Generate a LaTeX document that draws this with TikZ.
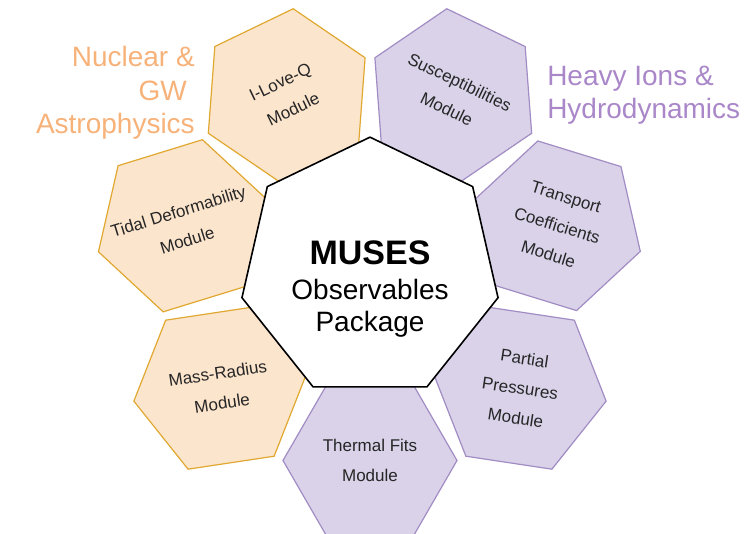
\documentclass[tikz,border=0pt]{standalone}
\usepackage{fontspec}
\setmainfont{Liberation Sans}
\usepackage{tikz}
\usetikzlibrary{shapes.geometric}
\definecolor{orfill}{HTML}{FCE5CD}
\definecolor{ordraw}{HTML}{E0A830}
\definecolor{ortext}{HTML}{F7B27A}
\definecolor{pufill}{HTML}{D9D2E9}
\definecolor{pudraw}{HTML}{A28CC4}
\definecolor{putext}{HTML}{A987C8}
\tikzset{
  hexa/.style ={regular polygon,regular polygon sides=6,minimum size=130.5pt,inner sep=-12pt,
    align=center,text=black!85,font=\fontsize{12.75}{22.5}\selectfont},
  nuc/.style  ={hexa,draw=ordraw,fill=orfill,line width=0.9pt},
  hion/.style ={hexa,draw=pudraw,fill=pufill,line width=0.9pt},
  core/.style ={regular polygon,regular polygon sides=7,minimum size=197pt,inner sep=0pt,
    draw,line width=1.2pt,fill=white},
  grp/.style  ={font=\fontsize{21}{25}\selectfont,inner sep=0pt},
}
\begin{document}
\begin{tikzpicture}[x=0.75pt,y=0.75pt]
  \useasboundingbox (-370,-265.5) rectangle (386,268.5);
  % astrophysics modules
  \node[nuc,rotate=25.71]  (ilq)   at (115.71:192) {I-Love-Q\\Module};
  \node[nuc,rotate=17.14]  (tidal) at (167.14:192) {Tidal Deformability\\Module};
  \node[nuc,rotate=8.57]   (mr)    at (218.57:192) {Mass-Radius\\Module};
  % heavy-ion modules
  \node[hion]              (tf)    at (270:192)    {Thermal Fits\\Module};
  \node[hion,rotate=-8.57] (pp)    at (321.43:192) {Partial\\Pressures\\Module};
  \node[hion,rotate=-17.14](tc)    at (12.86:192)  {Transport\\Coefficients\\Module};
  \node[hion,rotate=-25.71](sus)   at (64.29:192)  {Susceptibilities\\Module};
  % package in the middle
  \node[core] (pkg) at (0,0) {};
  \node[align=center,inner sep=0pt,font=\fontsize{21}{24}\selectfont] (title)
    at ([yshift=-15.4pt]pkg.center)
    {{\bfseries\fontsize{25.5}{26}\selectfont MUSES}\\[2pt]Observables\\Package};
  % group labels
  \node[grp,text=ortext,align=right,anchor=east] (nuclab) at (-175,175.5)
    {Nuclear \&\\GW\hbox to 0.28em{}\\Astrophysics};
  \node[grp,text=putext,align=left,anchor=west] (hilab) at (177,173.5)
    {Heavy Ions \&\\Hydrodynamics};
\end{tikzpicture}
\end{document}
